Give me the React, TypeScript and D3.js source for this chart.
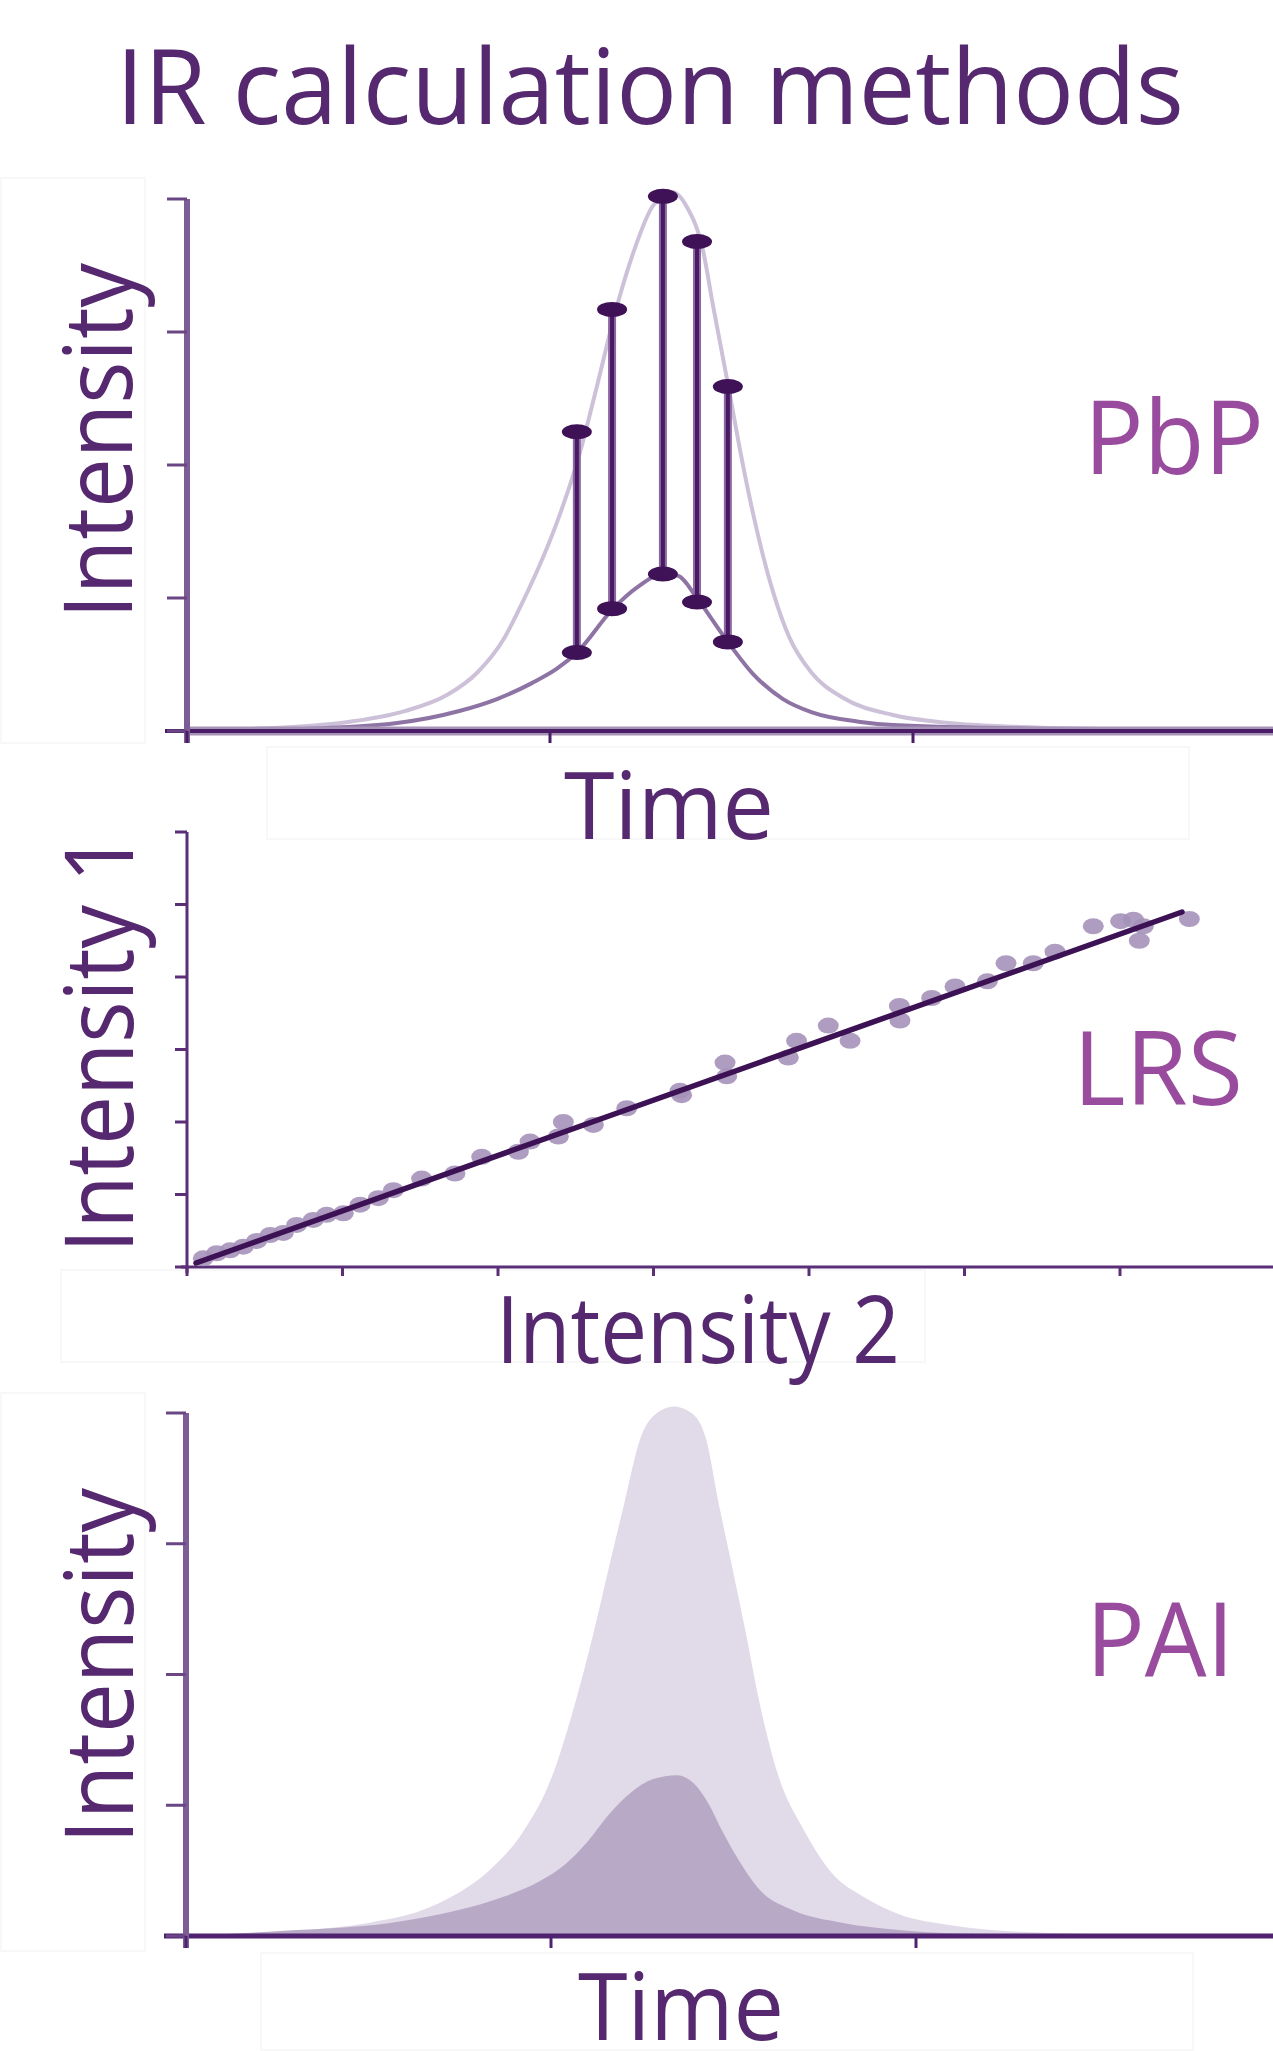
import React from "react";
import * as d3 from "d3";

const W = 1273;
const H = 2051;

// PbP: heavy (tall) and light (short) traces
const pbpHeavyTime = [0, 0.174, 0.449, 0.6, 0.716, 0.8, 0.87, 0.93, 0.98, 1.03, 1.08, 1.13, 1.18, 1.23, 1.284, 1.339, 1.377, 1.421, 1.449, 1.488, 1.523, 1.559, 1.614, 1.66, 1.72, 1.807, 1.945, 2.1, 2.3, 2.65, 3];
const pbpHeavy = [0, 0.015, 0.07, 0.15, 0.27, 0.44, 0.68, 1.0, 1.3, 1.65, 2.07, 2.6, 3.15, 3.6, 3.95, 4.05, 3.94, 3.62, 3.2, 2.64, 2.12, 1.64, 1.05, 0.7, 0.44, 0.25, 0.12, 0.06, 0.03, 0.01, 0];
const pbpLightTime = [0, 0.311, 0.579, 0.75, 0.854, 0.95, 1.02, 1.074, 1.174, 1.24, 1.311, 1.35, 1.405, 1.441, 1.49, 1.559, 1.642, 1.722, 1.85, 1.945, 2.391, 3];
const pbpLight = [0, 0.015, 0.06, 0.15, 0.24, 0.36, 0.47, 0.59, 0.92, 1.08, 1.18, 1.17, 1.0, 0.86, 0.67, 0.43, 0.24, 0.14, 0.07, 0.045, 0.015, 0];
// scans joined point by point
const pbpScanTime = [1.074, 1.171, 1.311, 1.405, 1.49];
const pbpScanHeavy = [2.25, 3.17, 4.02, 3.68, 2.59];
const pbpScanLight = [0.59, 0.92, 1.18, 0.97, 0.67];
const timeTicks = [0, 1, 2];
const pbpYTicks = [0, 1, 2, 3, 4];

// LRS: intensity pairs and the fitted line
const lrsX = [0.105, 0.191, 0.277, 0.362, 0.448, 0.534, 0.619, 0.705, 0.812, 0.898, 1.005, 1.113, 1.23, 1.327, 1.509, 1.723, 1.895, 2.131, 2.206, 2.388, 2.42, 2.613, 2.828, 3.17, 3.181, 3.46, 3.471, 3.867, 3.92, 4.124, 4.264, 4.581, 4.585, 4.789, 4.939, 5.147, 5.267, 5.442, 5.582, 5.828, 6.004, 6.086, 6.15, 6.124, 6.446];
const lrsY = [0.12, 0.19, 0.23, 0.28, 0.36, 0.44, 0.47, 0.58, 0.65, 0.72, 0.74, 0.86, 0.95, 1.06, 1.22, 1.29, 1.52, 1.59, 1.73, 1.8, 2.0, 1.96, 2.19, 2.43, 2.37, 2.82, 2.63, 2.89, 3.12, 3.33, 3.12, 3.6, 3.4, 3.71, 3.87, 3.94, 4.19, 4.19, 4.35, 4.7, 4.77, 4.79, 4.7, 4.5, 4.8];
const lrsFitX = [0.058, 6.399];
const lrsFitY = [0.055, 4.897];
const lrsXTicks = [0, 1, 2, 3, 4, 5, 6];
const lrsYTicks = [0, 1, 2, 3, 4, 5, 6];

// PAI: areas under heavy and light traces
const paiHeavyTime = [0, 0.3, 0.5, 0.65, 0.727, 0.83, 0.924, 1.0, 1.068, 1.115, 1.157, 1.2, 1.244, 1.29, 1.337, 1.385, 1.425, 1.46, 1.498, 1.535, 1.57, 1.62, 1.695, 1.77, 1.856, 1.95, 2.1, 2.3, 2.6, 3];
const paiHeavy = [0, 0.04, 0.1, 0.2, 0.3, 0.5, 0.8, 1.2, 1.8, 2.3, 2.8, 3.3, 3.8, 4.0, 4.05, 4.0, 3.8, 3.3, 2.8, 2.3, 1.8, 1.25, 0.8, 0.48, 0.3, 0.17, 0.08, 0.03, 0.01, 0];
const paiLightTime = [0, 0.268, 0.559, 0.75, 0.87, 0.97, 1.04, 1.1, 1.162, 1.22, 1.28, 1.345, 1.39, 1.43, 1.47, 1.51, 1.573, 1.66, 1.8, 1.937, 2.121, 3];
const paiLight = [0, 0.04, 0.1, 0.2, 0.3, 0.42, 0.55, 0.72, 0.94, 1.1, 1.2, 1.23, 1.17, 1.02, 0.8, 0.6, 0.35, 0.2, 0.1, 0.05, 0.02, 0];
const paiYTicks = [0, 1, 2, 3, 4];

const FONT = "'Open Sans', sans-serif";
const TEXT = "#55286f";
const METHOD = "#994c9e";

const zip = (a: number[], b: number[]) => a.map((v, i) => [v, b[i]] as [number, number]);

export default function App() {
  // PbP scales
  const pX = d3.scaleLinear().domain([0, 3]).range([187, 1276]);
  const pY = d3.scaleLinear().domain([0, 4]).range([731, 199]);
  const pLine = d3
    .line<[number, number]>()
    .x(d => pX(d[0]))
    .y(d => pY(d[1]))
    .curve(d3.curveMonotoneX);

  // LRS scales
  const lX = d3.scaleLinear().domain([0, 7]).range([187, 1275.5]);
  const lY = d3.scaleLinear().domain([0, 6]).range([1267, 832]);

  // PAI scales
  const aX = d3.scaleLinear().domain([0, 3]).range([186, 1281]);
  const aY = d3.scaleLinear().domain([0, 4]).range([1936, 1413]);
  const aArea = d3
    .area<[number, number]>()
    .x(d => aX(d[0]))
    .y0(aY(0))
    .y1(d => aY(d[1]))
    .curve(d3.curveMonotoneX);

  return (
    <svg
      width={W}
      height={H}
      style={{ position: "absolute", left: 0, top: 0, background: "#fff" }}
    >
      <rect x={0} y={0} width={W} height={H} fill="#fff" />

      {/* faint label boxes */}
      <g fill="none" stroke="#f8f8f8" strokeWidth={2}>
        <rect x={1} y={178} width={144} height={565} />
        <rect x={267} y={747} width={922} height={92} />
        <rect x={61} y={1270} width={864} height={92} />
        <rect x={1} y={1393} width={144} height={558} />
        <rect x={261} y={1953} width={932} height={97} />
      </g>

      {/* title */}
      <text
        x={650}
        y={124}
        textAnchor="middle"
        fontFamily={FONT}
        fontSize={105}
        fill={TEXT}
        textLength={1068}
        lengthAdjust="spacingAndGlyphs"
      >
        IR calculation methods
      </text>

      {/* ---------- PbP ---------- */}
      <g>
        <path d={pLine(zip(pbpHeavyTime, pbpHeavy)) || ""} fill="none" stroke="#cdc1d9" strokeWidth={4} />
        <path d={pLine(zip(pbpLightTime, pbpLight)) || ""} fill="none" stroke="#8e74a4" strokeWidth={4} />
        {/* axes */}
        <line x1={pX(0)} x2={W} y1={pY(0)} y2={pY(0)} stroke="#a893b8" strokeWidth={9} />
        <line x1={pX(0) - 22} x2={W} y1={pY(0)} y2={pY(0)} stroke="#4b1d66" strokeWidth={4} />
        <line x1={pX(0)} x2={pX(0)} y1={pY(4)} y2={pY(0) + 12} stroke="#7d5d95" strokeWidth={6} />
        {pbpYTicks.map(t => (
          <line key={t} x1={pX(0) - 20} x2={pX(0)} y1={pY(t)} y2={pY(t)} stroke="#6a4684" strokeWidth={3} />
        ))}
        {timeTicks.map(t => (
          <line key={t} x1={pX(t)} x2={pX(t)} y1={pY(0)} y2={pY(0) + 12} stroke="#4b1d66" strokeWidth={3} />
        ))}
        {/* scan pairs */}
        {pbpScanTime.map((t, i) => (
          <g key={t}>
            <line x1={pX(t)} x2={pX(t)} y1={pY(pbpScanHeavy[i])} y2={pY(pbpScanLight[i])} stroke="#8a6ba0" strokeWidth={8} />
            <line x1={pX(t)} x2={pX(t)} y1={pY(pbpScanHeavy[i])} y2={pY(pbpScanLight[i])} stroke="#4a1865" strokeWidth={4} />
            <ellipse cx={pX(t)} cy={pY(pbpScanHeavy[i])} rx={15} ry={7.5} fill="#3f1156" />
            <ellipse cx={pX(t)} cy={pY(pbpScanLight[i])} rx={15} ry={7.5} fill="#3f1156" />
          </g>
        ))}
        <text x={669} y={839} textAnchor="middle" fontFamily={FONT} fontSize={94} fill={TEXT} textLength={210} lengthAdjust="spacingAndGlyphs">
          Time
        </text>
        <text transform="translate(132,441) rotate(-90)" textAnchor="middle" fontFamily={FONT} fontSize={95} fill={TEXT} textLength={356} lengthAdjust="spacingAndGlyphs">
          Intensity
        </text>
        <text x={1084} y={474} fontFamily={FONT} fontSize={102} fill={METHOD} textLength={180} lengthAdjust="spacingAndGlyphs">
          PbP
        </text>
      </g>

      {/* ---------- LRS ---------- */}
      <g>
        <line x1={lX(0)} x2={lX(0)} y1={lY(6)} y2={lY(0) + 6} stroke="#5b2f78" strokeWidth={3} />
        <line x1={lX(0) - 6} x2={W} y1={lY(0)} y2={lY(0)} stroke="#5b2f78" strokeWidth={3} />
        {lrsYTicks.map(t => (
          <line key={t} x1={lX(0) - 12} x2={lX(0)} y1={lY(t)} y2={lY(t)} stroke="#5b2f78" strokeWidth={3} />
        ))}
        {lrsXTicks.map(t => (
          <line key={t} x1={lX(t)} x2={lX(t)} y1={lY(0)} y2={lY(0) + 9} stroke="#5b2f78" strokeWidth={3} />
        ))}
        {lrsX.map((v, i) => (
          <ellipse key={i} cx={lX(v)} cy={lY(lrsY[i])} rx={10.5} ry={8} fill="#a592b9" fillOpacity={0.9} />
        ))}
        <line
          x1={lX(lrsFitX[0])}
          y1={lY(lrsFitY[0])}
          x2={lX(lrsFitX[1])}
          y2={lY(lrsFitY[1])}
          stroke="#3d1254"
          strokeWidth={5.5}
          strokeLinecap="round"
        />
        <text x={698} y={1363} textAnchor="middle" fontFamily={FONT} fontSize={94} fill={TEXT} textLength={404} lengthAdjust="spacingAndGlyphs">
          Intensity 2
        </text>
        <text transform="translate(133,1043) rotate(-90)" textAnchor="middle" fontFamily={FONT} fontSize={95} fill={TEXT} textLength={420} lengthAdjust="spacingAndGlyphs">
          Intensity 1
        </text>
        <text x={1073} y={1105} fontFamily={FONT} fontSize={102} fill={METHOD} textLength={170} lengthAdjust="spacingAndGlyphs">
          LRS
        </text>
      </g>

      {/* ---------- PAI ---------- */}
      <g>
        <path d={aArea(zip(paiHeavyTime, paiHeavy)) || ""} fill="#e1dae8" />
        <path d={aArea(zip(paiLightTime, paiLight)) || ""} fill="#b8a9c6" />
        <line x1={aX(0) - 22} x2={W} y1={aY(0)} y2={aY(0)} stroke="#4f2270" strokeWidth={5} />
        <line x1={aX(0)} x2={aX(0)} y1={aY(4)} y2={aY(0) + 12} stroke="#7d5d95" strokeWidth={6} />
        {paiYTicks.map(t => (
          <line key={t} x1={aX(0) - 20} x2={aX(0)} y1={aY(t)} y2={aY(t)} stroke="#6a4684" strokeWidth={3} />
        ))}
        {timeTicks.map(t => (
          <line key={t} x1={aX(t)} x2={aX(t)} y1={aY(0)} y2={aY(0) + 12} stroke="#4f2270" strokeWidth={3} />
        ))}
        <text x={681} y={2040} textAnchor="middle" fontFamily={FONT} fontSize={94} fill={TEXT} textLength={206} lengthAdjust="spacingAndGlyphs">
          Time
        </text>
        <text transform="translate(133,1666) rotate(-90)" textAnchor="middle" fontFamily={FONT} fontSize={95} fill={TEXT} textLength={356} lengthAdjust="spacingAndGlyphs">
          Intensity
        </text>
        <text x={1086} y={1676} fontFamily={FONT} fontSize={102} fill={METHOD} textLength={148} lengthAdjust="spacingAndGlyphs">
          PAI
        </text>
      </g>
    </svg>
  );
}
